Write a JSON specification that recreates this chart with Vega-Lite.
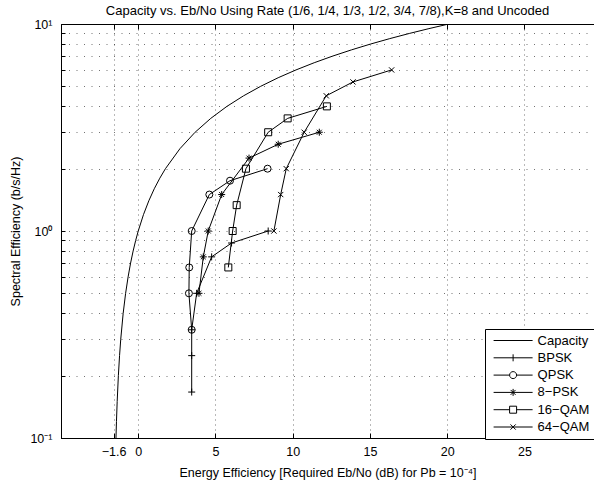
{
  "$schema": "https://vega.github.io/schema/vega-lite/v6.json",
  "width": 533,
  "height": 414,
  "autosize": "none",
  "padding": {"left": 61, "top": 24, "right": 0, "bottom": 47},
  "background": "white",
  "title": {
    "text": "Capacity vs. Eb/No Using Rate (1/6, 1/4, 1/3, 1/2, 3/4, 7/8),K=8 and Uncoded",
    "font": "Liberation Sans",
    "fontSize": 13,
    "fontWeight": "normal",
    "color": "black",
    "anchor": "middle",
    "offset": 0
  },
  "config": {
    "view": {"stroke": "black", "strokeWidth": 1},
    "font": "Liberation Sans",
    "axis": {
      "labelFont": "Liberation Sans",
      "titleFont": "Liberation Sans",
      "labelColor": "black",
      "titleColor": "black",
      "labelFontSize": 12.5,
      "titleFontSize": 12.5,
      "titleFontWeight": "normal",
      "domainColor": "black",
      "tickColor": "black",
      "gridColor": "black",
      "gridOpacity": 0.55,
      "gridWidth": 1
    }
  },
  "data": {
    "values": [
      {"series": "Capacity", "ord": 1, "x": -1.441, "y": 0.1},
      {"series": "Capacity", "ord": 2, "x": -1.41, "y": 0.12},
      {"series": "Capacity", "ord": 3, "x": -1.364, "y": 0.15},
      {"series": "Capacity", "ord": 4, "x": -1.287, "y": 0.2},
      {"series": "Capacity", "ord": 5, "x": -1.21, "y": 0.25},
      {"series": "Capacity", "ord": 6, "x": -1.133, "y": 0.3},
      {"series": "Capacity", "ord": 7, "x": -0.976, "y": 0.4},
      {"series": "Capacity", "ord": 8, "x": -0.817, "y": 0.5},
      {"series": "Capacity", "ord": 9, "x": -0.657, "y": 0.6},
      {"series": "Capacity", "ord": 10, "x": -0.496, "y": 0.7},
      {"series": "Capacity", "ord": 11, "x": -0.332, "y": 0.8},
      {"series": "Capacity", "ord": 12, "x": -0.167, "y": 0.9},
      {"series": "Capacity", "ord": 13, "x": 0.0, "y": 1.0},
      {"series": "Capacity", "ord": 14, "x": 0.339, "y": 1.2},
      {"series": "Capacity", "ord": 15, "x": 0.685, "y": 1.4},
      {"series": "Capacity", "ord": 16, "x": 1.037, "y": 1.6},
      {"series": "Capacity", "ord": 17, "x": 1.396, "y": 1.8},
      {"series": "Capacity", "ord": 18, "x": 1.761, "y": 2.0},
      {"series": "Capacity", "ord": 19, "x": 2.701, "y": 2.5},
      {"series": "Capacity", "ord": 20, "x": 3.68, "y": 3.0},
      {"series": "Capacity", "ord": 21, "x": 4.694, "y": 3.5},
      {"series": "Capacity", "ord": 22, "x": 5.74, "y": 4.0},
      {"series": "Capacity", "ord": 23, "x": 6.818, "y": 4.5},
      {"series": "Capacity", "ord": 24, "x": 7.924, "y": 5.0},
      {"series": "Capacity", "ord": 25, "x": 9.056, "y": 5.5},
      {"series": "Capacity", "ord": 26, "x": 10.212, "y": 6.0},
      {"series": "Capacity", "ord": 27, "x": 11.39, "y": 6.5},
      {"series": "Capacity", "ord": 28, "x": 12.587, "y": 7.0},
      {"series": "Capacity", "ord": 29, "x": 13.803, "y": 7.5},
      {"series": "Capacity", "ord": 30, "x": 15.035, "y": 8.0},
      {"series": "Capacity", "ord": 31, "x": 16.281, "y": 8.5},
      {"series": "Capacity", "ord": 32, "x": 17.542, "y": 9.0},
      {"series": "Capacity", "ord": 33, "x": 18.815, "y": 9.5},
      {"series": "Capacity", "ord": 34, "x": 20.099, "y": 10.0},
      {"series": "BPSK", "ord": 1, "x": 3.46, "y": 0.1667},
      {"series": "BPSK", "ord": 2, "x": 3.46, "y": 0.25},
      {"series": "BPSK", "ord": 3, "x": 3.46, "y": 0.3333},
      {"series": "BPSK", "ord": 4, "x": 3.78, "y": 0.5},
      {"series": "BPSK", "ord": 5, "x": 4.75, "y": 0.75},
      {"series": "BPSK", "ord": 6, "x": 6.04, "y": 0.875},
      {"series": "BPSK", "ord": 7, "x": 8.41, "y": 1.0},
      {"series": "QPSK", "ord": 1, "x": 3.46, "y": 0.3333},
      {"series": "QPSK", "ord": 2, "x": 3.28, "y": 0.5},
      {"series": "QPSK", "ord": 3, "x": 3.3, "y": 0.6667},
      {"series": "QPSK", "ord": 4, "x": 3.46, "y": 1.0},
      {"series": "QPSK", "ord": 5, "x": 4.6, "y": 1.5},
      {"series": "QPSK", "ord": 6, "x": 5.94, "y": 1.75},
      {"series": "QPSK", "ord": 7, "x": 8.37, "y": 2.0},
      {"series": "8−PSK", "ord": 1, "x": 3.93, "y": 0.5},
      {"series": "8−PSK", "ord": 2, "x": 4.21, "y": 0.75},
      {"series": "8−PSK", "ord": 3, "x": 4.53, "y": 1.0},
      {"series": "8−PSK", "ord": 4, "x": 5.4, "y": 1.5},
      {"series": "8−PSK", "ord": 5, "x": 7.17, "y": 2.25},
      {"series": "8−PSK", "ord": 6, "x": 9.06, "y": 2.625},
      {"series": "8−PSK", "ord": 7, "x": 11.72, "y": 3.0},
      {"series": "16−QAM", "ord": 1, "x": 5.83, "y": 0.6667},
      {"series": "16−QAM", "ord": 2, "x": 6.11, "y": 1.0},
      {"series": "16−QAM", "ord": 3, "x": 6.37, "y": 1.3333},
      {"series": "16−QAM", "ord": 4, "x": 6.97, "y": 2.0},
      {"series": "16−QAM", "ord": 5, "x": 8.41, "y": 3.0},
      {"series": "16−QAM", "ord": 6, "x": 9.67, "y": 3.5},
      {"series": "16−QAM", "ord": 7, "x": 12.21, "y": 4.0},
      {"series": "64−QAM", "ord": 1, "x": 8.78, "y": 1.0},
      {"series": "64−QAM", "ord": 2, "x": 9.22, "y": 1.5},
      {"series": "64−QAM", "ord": 3, "x": 9.58, "y": 2.0},
      {"series": "64−QAM", "ord": 4, "x": 10.74, "y": 3.0},
      {"series": "64−QAM", "ord": 5, "x": 12.17, "y": 4.5},
      {"series": "64−QAM", "ord": 6, "x": 13.9, "y": 5.25},
      {"series": "64−QAM", "ord": 7, "x": 16.4, "y": 6.0}
    ]
  },
  "encoding": {
    "y": {
      "field": "y",
      "type": "quantitative",
      "scale": {"type": "log", "domain": [0.1, 10], "nice": false},
      "axis": {
        "values": [0.1, 0.2, 0.3, 0.4, 0.5, 0.6, 0.7, 0.8, 0.9, 1, 2, 3, 4, 5, 6, 7, 8, 9, 10],
        "labelExpr": "datum.value == 10 ? '10¹' : (datum.value == 1 ? '10⁰' : (datum.value == 0.1 ? '10⁻¹' : ''))",
        "title": "Spectral Efficiency (b/s/Hz)",
        "tickSize": -4,
        "labelPadding": 13,
        "titlePadding": 7,
        "grid": true,
        "gridDash": [1, 6.5],
        "labelFlush": false,
        "labelOverlap": false
      }
    }
  },
  "layer": [
    {
      "mark": {"type": "line", "color": "black", "strokeWidth": 1, "clip": true},
      "encoding": {
        "x": {
          "field": "x",
          "type": "quantitative",
          "scale": {"domain": [-5, 29.5], "nice": false, "zero": false},
          "axis": {
            "values": [-1.6, 0, 5, 10, 15, 20, 25],
            "labelExpr": "datum.value < 0 ? '−1.6' : datum.label",
            "title": "Energy Efficiency [Required Eb/No (dB) for Pb = 10⁻⁴]",
            "tickSize": -5,
            "labelPadding": 12,
            "titlePadding": 9,
            "grid": true,
            "gridDash": [1, 4],
            "labelFlush": false,
            "labelOverlap": false
          }
        },
        "detail": {"field": "series"},
        "order": {"field": "ord", "type": "quantitative"}
      }
    },
    {
      "transform": [{"filter": "datum.series != 'Capacity'"}],
      "mark": {"type": "point", "color": "black", "filled": false, "size": 49, "strokeWidth": 1, "opacity": 1},
      "encoding": {
        "x": {"field": "x", "type": "quantitative", "axis": null},
        "shape": {
          "field": "series",
          "type": "nominal",
          "scale": {
            "domain": ["BPSK", "QPSK", "8−PSK", "16−QAM", "64−QAM"],
            "range": [
              "M-1,0L1,0M0,-1L0,1",
              "circle",
              "M-1,0L1,0M0,-1L0,1M-0.7,-0.7L0.7,0.7M-0.7,0.7L0.7,-0.7",
              "square",
              "M-0.75,-0.75L0.75,0.75M-0.75,0.75L0.75,-0.75"
            ]
          },
          "legend": null
        }
      }
    },
    {
      "mark": {"type": "point", "color": "black", "filled": false, "size": 49, "strokeWidth": 1, "opacity": 0},
      "encoding": {
        "x": {
          "field": "x",
          "type": "quantitative",
          "axis": {
            "orient": "top",
            "values": [-1.6, 0, 5, 10, 15, 20, 25],
            "labels": false,
            "title": null,
            "domain": false,
            "grid": false,
            "tickSize": -5
          }
        },
        "shape": {
          "field": "series",
          "type": "nominal",
          "scale": {
            "domain": ["Capacity", "BPSK", "QPSK", "8−PSK", "16−QAM", "64−QAM"],
            "range": [
              "M0,0L11.143,0",
              "M0,0L11.143,0M5.571,-1L5.571,1",
              "M0,0L4.571,0M6.571,0L11.143,0M6.571,0A1,1,0,1,1,4.571,0A1,1,0,1,1,6.571,0",
              "M0,0L11.143,0M5.571,-1L5.571,1M4.871,-0.7L6.271,0.7M4.871,0.7L6.271,-0.7",
              "M0,0L4.571,0M6.571,0L11.143,0M4.571,-1L6.571,-1L6.571,1L4.571,1Z",
              "M0,0L11.143,0M4.821,-0.75L6.321,0.75M4.821,0.75L6.321,-0.75"
            ]
          },
          "legend": {
            "title": null,
            "orient": "none",
            "legendX": 424,
            "legendY": 305,
            "strokeColor": "black",
            "fillColor": "white",
            "padding": 5,
            "labelFont": "Liberation Sans",
            "labelFontSize": 13,
            "labelColor": "black",
            "symbolSize": 49,
            "symbolStrokeWidth": 1,
            "symbolStrokeColor": "black",
            "symbolFillColor": "transparent",
            "symbolOpacity": 1,
            "symbolOffset": -2.9,
            "labelOffset": 37.5,
            "rowPadding": 3.3,
            "cornerRadius": 0
          }
        }
      }
    }
  ],
  "resolve": {"scale": {"shape": "independent"}, "axis": {"x": "independent"}}
}
